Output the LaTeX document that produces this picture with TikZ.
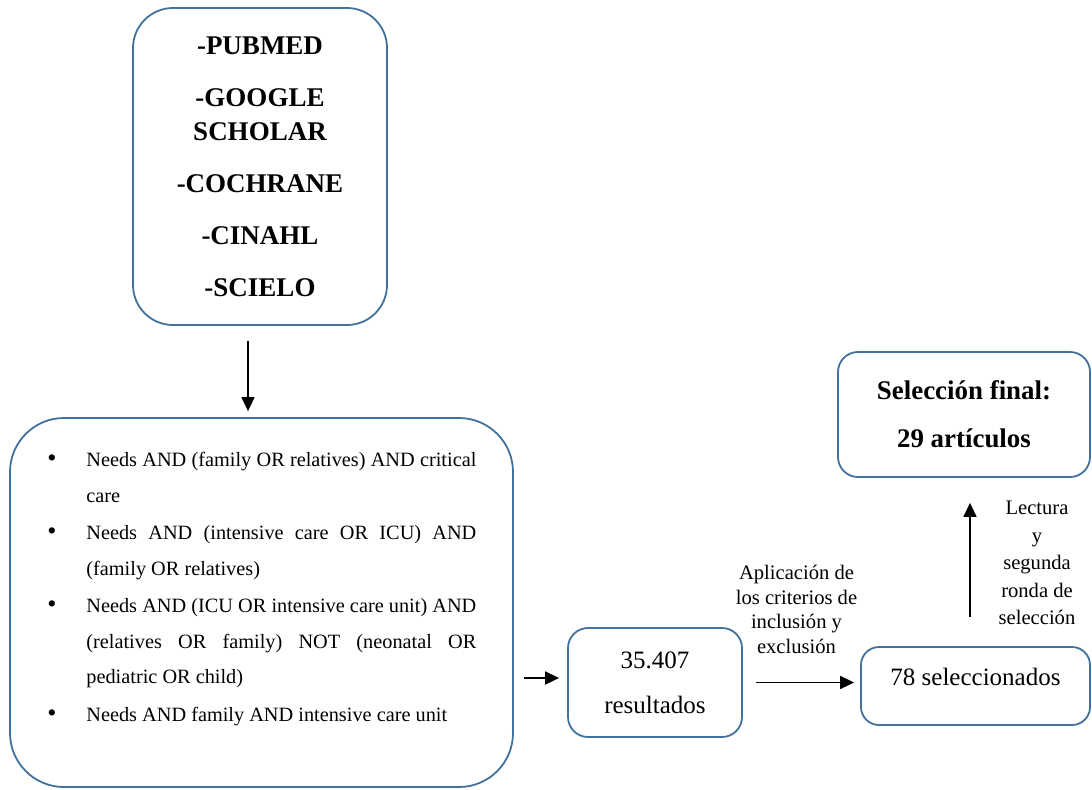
\documentclass[tikz,border=0pt]{standalone}
\usepackage{fontspec}
\setmainfont{Liberation Serif}
\usetikzlibrary{arrows.meta}
\definecolor{boxblue}{HTML}{41719C}
\begin{document}
\begin{tikzpicture}
		[x=0.5pt,y=-0.5pt,
			mybox/.style={draw=boxblue,line width=0.9pt,rounded corners=#1,align=center,inner sep=0pt},
			mybox/.default=10pt,
			myarrow/.style={-{Triangle[length=7pt,width=6.5pt]},line width=0.85pt},
			mylabel/.style={align=center,inner sep=0pt,font=\fontsize{10.3}{#1}\selectfont}]
	\useasboundingbox (0,0) rectangle (1092,789);
	\node[mybox=20pt,minimum width=127pt,minimum height=158.5pt,
		font=\fontsize{13.5}{17}\selectfont\bfseries,name=db] at (260,166.5)
		{-PUBMED\\[9pt]-GOOGLE\\SCHOLAR\\[9pt]-COCHRANE\\[9pt]-CINAHL\\[9pt]-SCIELO};
	\node[mybox=27pt,minimum width=251.5pt,minimum height=184.5pt,name=query] at (261.5,602.5) {};
	\node[anchor=north west,inner sep=0pt,text width=214.5pt,align=justify,
		font=\fontsize{10.15}{17.75}\selectfont,name=terms] at (47,452)
	{
		\hyphenpenalty=10000\tolerance=10000\parskip=1pt
		\hangindent=19.5pt\hangafter=1\noindent\makebox[19.5pt][l]{\fontsize{13}{13}\selectfont\textbullet}Needs AND (family OR relatives) AND critical\linebreak care\par
		\hangindent=19.5pt\hangafter=1\noindent\makebox[19.5pt][l]{\fontsize{13}{13}\selectfont\textbullet}Needs AND (intensive care OR ICU) AND\linebreak (family OR relatives)\par
		\hangindent=19.5pt\hangafter=1\noindent\makebox[19.5pt][l]{\fontsize{13}{13}\selectfont\textbullet}Needs AND (ICU OR intensive care unit) AND\linebreak (relatives OR family) NOT (neonatal OR\linebreak pediatric OR child)\par
		\hangindent=19.5pt\hangafter=1\noindent\makebox[19.5pt][l]{\fontsize{13}{13}\selectfont\textbullet}Needs AND family AND intensive care unit\par
	};
	\node[mybox=10pt,minimum width=87pt,minimum height=54.5pt,
		font=\fontsize{12.5}{22.5}\selectfont,name=res] at (655,682.5) {35.407\\resultados};
	\node[mybox=9pt,minimum width=114.5pt,minimum height=39pt,
		font=\fontsize{12.5}{15}\selectfont,text height=8.5pt,text depth=9.5pt,name=sel] at (975.5,686) {78 seleccionados};
	\node[mybox=10pt,minimum width=126pt,minimum height=62.5pt,
		font=\fontsize{13.45}{24}\selectfont\bfseries,name=final] at (964,414.5) {Selección final:\\29 artículos};
	\node[mylabel=12.25pt,name=crit] at (796.5,609.5) {Aplicación de\\los criterios de\\inclusión y\\exclusión};
	\node[mylabel=13.75pt,name=read] at (1037,563) {Lectura\\y\\segunda\\ronda de\\selección};
	\draw[myarrow] ([xshift=-6pt,yshift=-7.5pt]db.south) -- ([xshift=-6pt,yshift=3pt]db.south |- query.north);
	\draw[myarrow] ([xshift=5pt,yshift=2.25pt]query.east |- res.west) -- ([xshift=-4pt,yshift=2.25pt]res.west);
	\draw[myarrow] ([xshift=6.5pt]res.east) -- ([xshift=-3pt]res.east -| sel.west);
	\draw[myarrow] ([xshift=-2.75pt,yshift=14.5pt]sel.north) -- ([xshift=-2.75pt,yshift=-12.5pt]sel.north |- final.south);
\end{tikzpicture}
\end{document}
